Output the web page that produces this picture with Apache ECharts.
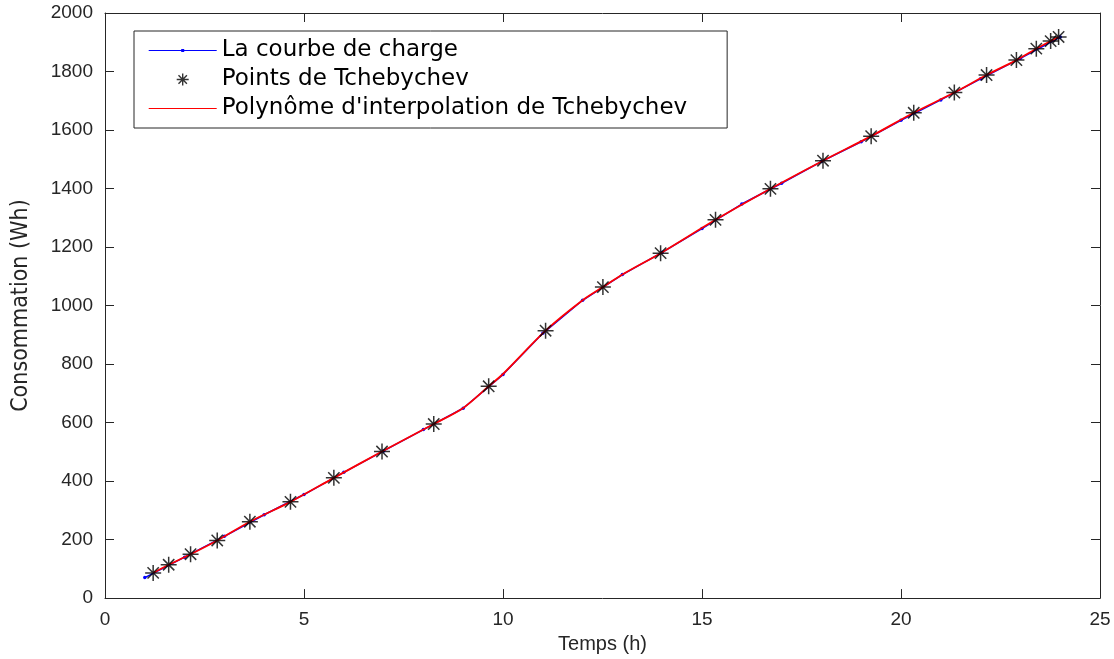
<!DOCTYPE html>
<html>
<head>
<meta charset="utf-8">
<script src="https://cdn.jsdelivr.net/npm/echarts@6/dist/echarts.min.js"></script>
<style>
html,body{margin:0;padding:0;background:#fff;}
#chart{width:1114px;height:659px;}
</style>
</head>
<body>
<div id="chart"></div>
<script>
// ---- data ----
const hours = [1,2,3,4,5,6,7,8,9,10,11,12,13,14,15,16,17,18,19,20,21,22,23,24];
const loadCurve = [70,140,211,285,354,430,503,576,649,764,905,1018,1106,1182,1263,1347,1418,1492,1560,1633,1703,1775,1845,1918];
const chebX = [1.21,1.60,2.15,2.82,3.64,4.66,5.75,6.96,8.26,9.64,11.07,12.51,13.96,15.34,16.72,18.04,19.25,20.32,21.34,22.15,22.90,23.40,23.76,23.96];
const chebY = [86,114,150,197,261,329,411,501,595,724,914,1063,1179,1293,1399,1495,1579,1659,1728,1788,1839,1878,1904,1918];
// samples of the red interpolation curve
const polyX = [1.21,1.60,2.15,2.82,3.64,4.66,5.75,6.96,8.26,9,9.64,10,11.07,12,12.51,13,13.96,15.34,16.72,18.04,19.25,20.32,21.34,22.15,22.90,23.40,23.76,23.96];
const polyY = [86,114,150,197,261,329,411,501,595,650,724,766,914,1018,1063,1106,1179,1293,1399,1495,1579,1659,1728,1788,1839,1878,1904,1918];
const xTicks = {min:0, max:25, interval:5};
const yTicks = {min:0, max:2000, interval:200};
const names = ['La courbe de charge', 'Points de Tchebychev', "Polynôme d'interpolation de Tchebychev"];

const pairs = (xs, ys) => xs.map((x, i) => [x, ys[i]]);
const axisCol = '#262626';
const tickFont = {fontFamily:'Liberation Sans, Arial, sans-serif', fontSize:19, color:axisCol, formatter:v => String(v)};
const starPath = 'path://M0,6 L12,6 M6,0 L6,12 M1.76,1.76 L10.24,10.24 M10.24,1.76 L1.76,10.24';

function baseAxis(extra) {
  return Object.assign({
    type:'value',
    splitLine:{show:false},
    axisLine:{show:true, onZero:false, lineStyle:{color:axisCol, width:1}},
    axisTick:{show:true, inside:true, length:9, lineStyle:{color:axisCol, width:1}}
  }, extra);
}

const chart = echarts.init(document.getElementById('chart'), null, {renderer:'canvas'});
chart.setOption({
  animation:false,
  backgroundColor:'#fff',
  grid:{left:105, right:14, top:13, bottom:51, containLabel:false},
  xAxis:[
    baseAxis({min:xTicks.min, max:xTicks.max, interval:xTicks.interval, position:'bottom',
      axisLabel:Object.assign({margin:12}, tickFont),
      name:'Temps (h)', nameLocation:'middle', nameGap:29,
      nameTextStyle:{fontFamily:'Liberation Sans, Arial, sans-serif', fontSize:20, color:axisCol}}),
    baseAxis({min:xTicks.min, max:xTicks.max, interval:xTicks.interval, position:'top',
      axisLabel:{show:false}})
  ],
  yAxis:[
    baseAxis({min:yTicks.min, max:yTicks.max, interval:yTicks.interval, position:'left',
      axisLabel:Object.assign({margin:12}, tickFont),
      name:'Consommation (Wh)', nameLocation:'middle', nameGap:72, nameRotate:90,
      nameTextStyle:{fontFamily:"'DejaVu Sans Condensed', 'Liberation Sans Narrow', 'Liberation Sans', sans-serif", fontSize:23, color:axisCol}}),
    baseAxis({min:yTicks.min, max:yTicks.max, interval:yTicks.interval, position:'right',
      axisLabel:{show:false}})
  ],
  legend:{
    orient:'vertical', left:134, top:31,
    padding:[5, 40, 5, 14],
    itemWidth:68, itemHeight:14, itemGap:0,
    backgroundColor:'#fff', borderColor:axisCol, borderWidth:1, borderRadius:0,
    textStyle:{fontFamily:'DejaVu Sans, sans-serif', fontSize:23, color:'#000', lineHeight:29},
    selectedMode:false,
    data:[
      {name:names[0], icon:'path://M0,0 L0,0 M68,14 L68,14 M0,6.5 L68,6.5 L68,7.5 L0,7.5 Z M32.5,5.5 L35.5,5.5 L35.5,8.5 L32.5,8.5 Z',
        itemStyle:{color:'#0000ff', borderWidth:0}},
      {name:names[1], icon:'path://M0,0 L0,0 M68,14 L68,14 M28,7 L40,7 M34,1 L34,13 M29.8,2.8 L38.2,11.2 M38.2,2.8 L29.8,11.2',
        itemStyle:{color:'rgba(0,0,0,0)', borderColor:'#000', borderWidth:1.4}},
      {name:names[2], icon:'path://M0,0 L0,0 M68,14 L68,14 M0,6.5 L68,6.5 L68,7.5 L0,7.5 Z',
        itemStyle:{color:'#ff0000', borderWidth:0}}
    ]
  },
  series:[
    {
      name:names[0], type:'line', data:pairs(hours, loadCurve),
      symbol:'circle', symbolSize:3.5, showSymbol:true,
      itemStyle:{color:'#0000ff'}, lineStyle:{color:'#0000ff', width:1.5}, z:2
    },
    {
      name:names[2], type:'line', data:pairs(polyX, polyY),
      smooth:0.3, symbol:'none', showSymbol:false,
      itemStyle:{color:'#ff0000'}, lineStyle:{color:'#ff0000', width:1.8}, z:3
    },
    {
      name:names[1], type:'scatter', data:pairs(chebX, chebY),
      symbol:starPath, symbolSize:16,
      itemStyle:{color:'rgba(0,0,0,0)', borderColor:'#000', borderWidth:1.5}, z:4
    }
  ]
});
</script>
</body>
</html>
